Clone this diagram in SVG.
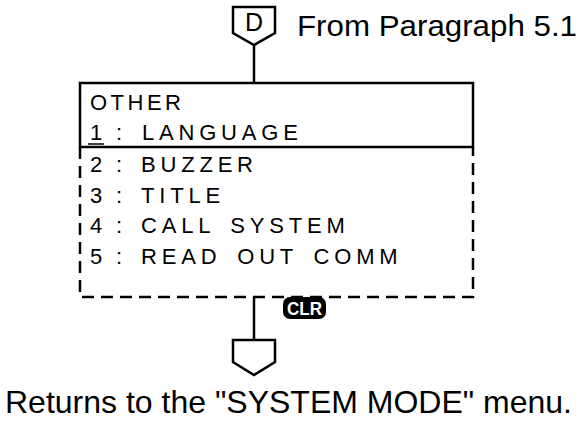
<svg xmlns="http://www.w3.org/2000/svg" width="580" height="425" viewBox="0 0 580 425">
<style>
.ln{fill:none;stroke:#000;stroke-width:2.5}
.dash{fill:none;stroke:#000;stroke-width:2.5;stroke-dasharray:12,7}
.menu{font-family:"Liberation Sans",Arial,sans-serif;font-size:22px;letter-spacing:4.8px;word-spacing:5px;fill:#000}
.lbl{font-family:"Liberation Sans",Arial,sans-serif;fill:#000}
.clrt{font-family:"Liberation Sans",Arial,sans-serif;font-size:18px;font-weight:bold;fill:#fff}
</style>
<rect width="580" height="425" fill="#fff"/>
<g id="connectors">
<line class="ln" x1="254" y1="45" x2="254" y2="83"/>
<line class="ln" x1="254" y1="297" x2="254" y2="340"/>
</g>
<g id="from-D">
<path class="ln" d="M233,7 H275 V33 L254,45 L233,33 Z"/>
<text class="lbl" x="254" y="31" font-size="25" text-anchor="middle">D</text>
<text class="lbl" x="297" y="36" font-size="30" textLength="280" lengthAdjust="spacingAndGlyphs">From Paragraph 5.1</text>
</g>
<g id="menu">
<path class="ln" d="M80,147 V83 H473 V147 Z"/>
<path class="dash" d="M80,147 V297 H473 V147"/>
<text class="menu" x="90" y="110" style="letter-spacing:3.5px">OTHER</text>
<text class="menu" y="140"><tspan x="90">1</tspan><tspan x="116">:</tspan><tspan x="142">LANGUAGE</tspan></text>
<line x1="88" y1="144" x2="104" y2="144" stroke="#000" stroke-width="1.5"/>
<text class="menu" y="172"><tspan x="90">2</tspan><tspan x="116">:</tspan><tspan x="141">BUZZER</tspan></text>
<text class="menu" y="203"><tspan x="90">3</tspan><tspan x="116">:</tspan><tspan x="141">TITLE</tspan></text>
<text class="menu" y="233"><tspan x="90">4</tspan><tspan x="116">:</tspan><tspan x="141">CALL SYSTEM</tspan></text>
<text class="menu" y="264"><tspan x="90">5</tspan><tspan x="116">:</tspan><tspan x="141">READ OUT COMM</tspan></text>
</g>
<g id="clr">
<rect x="283" y="297" width="43" height="22" rx="7" fill="#000"/>
<text class="clrt" x="304.5" y="315" text-anchor="middle" textLength="35" lengthAdjust="spacingAndGlyphs">CLR</text>
</g>
<g id="return">
<path class="ln" d="M233,340 H275 V362 L254,375 L233,362 Z"/>
<text class="lbl" x="5" y="413" font-size="32" textLength="567" lengthAdjust="spacingAndGlyphs">Returns to the "SYSTEM MODE" menu.</text>
</g>
</svg>
